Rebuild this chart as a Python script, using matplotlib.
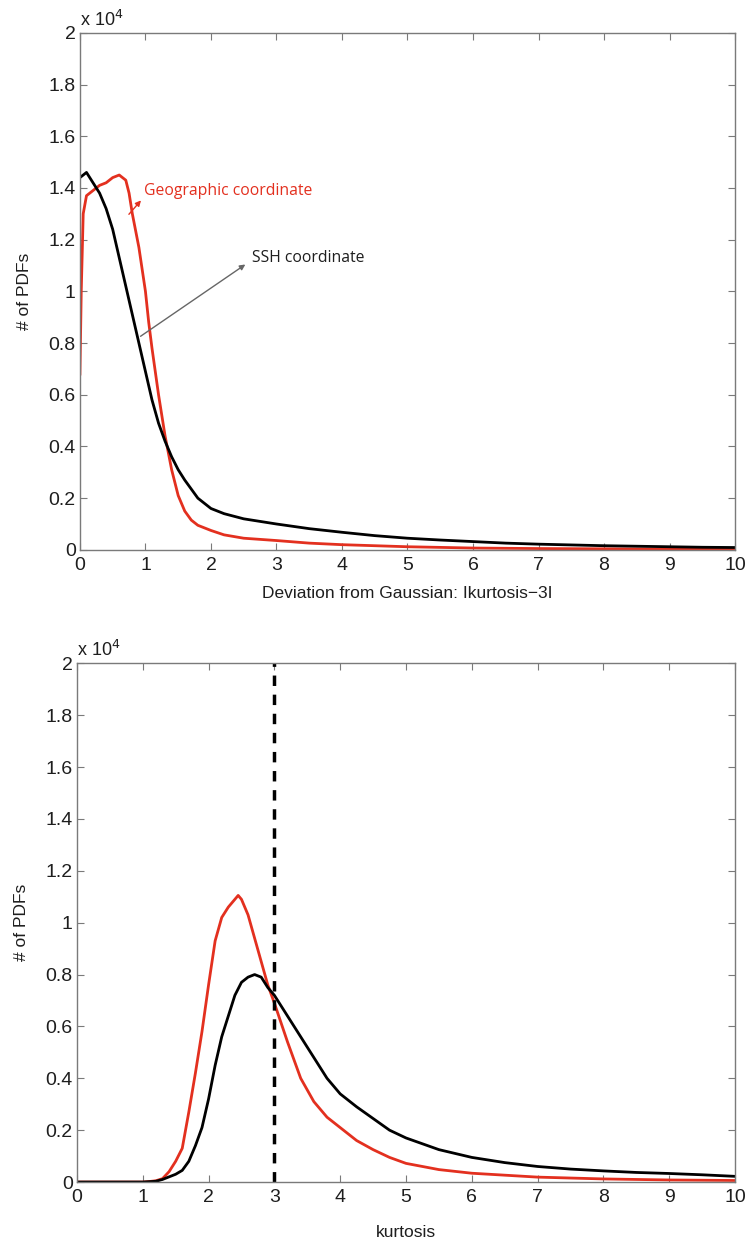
import matplotlib
matplotlib.use("Agg")
import matplotlib.pyplot as plt

plt.rcParams['font.family'] = ['Liberation Sans', 'DejaVu Sans']

# ---- data (counts in units of 1e4) ----
top_black_x = [0, 0.05, 0.1, 0.2, 0.3, 0.4, 0.5, 0.6, 0.7, 0.8, 0.9, 1.0, 1.1, 1.2, 1.3, 1.4, 1.5,
               1.6, 1.8, 2.0, 2.2, 2.5, 3, 3.5, 4, 4.5, 5, 5.5, 6, 6.5, 7, 7.5, 8, 8.5, 9, 9.5, 10]
top_black_y = [1.44, 1.45, 1.46, 1.42, 1.38, 1.32, 1.24, 1.13, 1.02, 0.91, 0.80, 0.69, 0.58, 0.49,
               0.42, 0.36, 0.31, 0.27, 0.20, 0.16, 0.14, 0.12, 0.10, 0.082, 0.068, 0.055, 0.045,
               0.038, 0.032, 0.026, 0.022, 0.019, 0.016, 0.014, 0.012, 0.010, 0.009]

top_red_x = [0, 0.02, 0.05, 0.1, 0.2, 0.3, 0.4, 0.5, 0.6, 0.7, 0.75, 0.8, 0.9, 1.0, 1.05, 1.1, 1.2,
             1.3, 1.4, 1.5, 1.6, 1.7, 1.8, 2.0, 2.2, 2.5, 3, 3.5, 4, 5, 6, 7, 8, 9, 10]
top_red_y = [0.68, 1.0, 1.30, 1.37, 1.39, 1.41, 1.42, 1.44, 1.45, 1.43, 1.38, 1.30, 1.17, 1.00, 0.88,
             0.78, 0.60, 0.44, 0.31, 0.21, 0.15, 0.115, 0.095, 0.075, 0.058, 0.045, 0.036, 0.026,
             0.020, 0.012, 0.007, 0.005, 0.004, 0.003, 0.002]

bot_black_x = [0, 1.0, 1.2, 1.3, 1.4, 1.5, 1.6, 1.7, 1.8, 1.9, 2.0, 2.1, 2.2, 2.3, 2.4, 2.5, 2.6,
               2.7, 2.8, 2.9, 3.0, 3.2, 3.4, 3.6, 3.8, 4.0, 4.25, 4.5, 4.75, 5, 5.5, 6, 6.5, 7,
               7.5, 8, 8.5, 9, 9.5, 10]
bot_black_y = [0, 0, 0.003, 0.01, 0.02, 0.03, 0.045, 0.08, 0.14, 0.21, 0.32, 0.45, 0.56, 0.64,
               0.72, 0.77, 0.79, 0.80, 0.79, 0.75, 0.72, 0.64, 0.56, 0.48, 0.40, 0.34, 0.29, 0.245,
               0.20, 0.17, 0.125, 0.095, 0.075, 0.06, 0.05, 0.043, 0.037, 0.033, 0.028, 0.022]

bot_red_x = [0, 1.0, 1.1, 1.2, 1.3, 1.4, 1.5, 1.6, 1.7, 1.8, 1.9, 2.0, 2.1, 2.2, 2.3, 2.4, 2.45,
             2.5, 2.6, 2.7, 2.8, 2.9, 3.0, 3.2, 3.4, 3.6, 3.8, 4.0, 4.25, 4.5, 4.75, 5, 5.5, 6, 7,
             8, 9, 10]
bot_red_y = [0, 0, 0.002, 0.005, 0.013, 0.04, 0.08, 0.13, 0.27, 0.42, 0.58, 0.76, 0.93, 1.02,
             1.06, 1.09, 1.105, 1.09, 1.03, 0.94, 0.85, 0.76, 0.69, 0.54, 0.40, 0.31, 0.25, 0.21,
             0.16, 0.125, 0.095, 0.072, 0.048, 0.034, 0.019, 0.012, 0.008, 0.006]

gaussian_kurtosis = 3
x_ticks = list(range(0, 11))
y_ticks = [0, 0.2, 0.4, 0.6, 0.8, 1, 1.2, 1.4, 1.6, 1.8, 2]
y_ticklabels = ['0', '0.2', '0.4', '0.6', '0.8', '1', '1.2', '1.4', '1.6', '1.8', '2']

RED = '#e3301f'
SPINE = '#7a7a7a'
TXT = '#1e1e1e'

fig = plt.figure(figsize=(7.47, 12.44), dpi=100)
ax1 = fig.add_axes([0.107, 0.558, 0.877, 0.4156])
ax2 = fig.add_axes([0.103, 0.0498, 0.881, 0.417])


def style(ax):
    ax.set_xlim(0, 10)
    ax.set_ylim(0, 2)
    ax.set_xticks(x_ticks)
    ax.set_yticks(y_ticks)
    ax.set_yticklabels(y_ticklabels)
    for s in ax.spines.values():
        s.set_color(SPINE)
        s.set_linewidth(1.0)
    ax.tick_params(direction='in', top=True, right=True, length=5, width=0.8,
                   color=SPINE, labelsize=14, labelcolor=TXT)
    ax.tick_params(axis='x', pad=5)
    ax.tick_params(axis='y', pad=3)
    ax.set_ylabel('# of PDFs', fontsize=12.5, color=TXT, labelpad=12)
    ax.text(0.0, 1.006, r'x 10$^4$', transform=ax.transAxes, fontsize=13,
            color=TXT, ha='left', va='bottom')


style(ax1)
ax1.plot(top_red_x, top_red_y, color=RED, lw=2.0)
ax1.plot(top_black_x, top_black_y, color='black', lw=2.0)
ax1.set_xlabel('Deviation from Gaussian: Ikurtosis\u22123I', fontsize=12.5, color=TXT, labelpad=9)

ax1.annotate('', xy=(0.96, 1.36), xytext=(0.72, 1.29),
             arrowprops=dict(arrowstyle='-|>', color=RED, lw=1.0, mutation_scale=8))
ax1.text(0.98, 1.39, 'Geographic coordinate', color=RED, fontsize=11.3,
         family=['Open Sans', 'DejaVu Sans'], ha='left', va='center')
ax1.annotate('', xy=(2.56, 1.11), xytext=(0.89, 0.82),
             arrowprops=dict(arrowstyle='-|>', color='#666666', lw=1.0, mutation_scale=8))
ax1.text(2.62, 1.13, 'SSH coordinate', color=TXT, fontsize=11.3,
         family=['Open Sans', 'DejaVu Sans'], ha='left', va='center')

style(ax2)
ax2.plot(bot_red_x, bot_red_y, color=RED, lw=2.0)
ax2.plot(bot_black_x, bot_black_y, color='black', lw=2.0)
ax2.axvline(gaussian_kurtosis, color='black', lw=2.5, ls=(0, (3, 2.5)))
ax2.set_xlabel('kurtosis', fontsize=12.5, color=TXT, labelpad=14)

fig.savefig('out.png', dpi=100)
